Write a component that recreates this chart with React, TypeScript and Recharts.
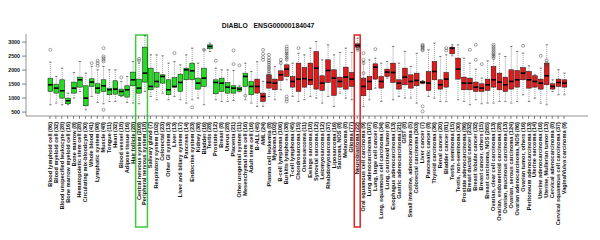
import { ComposedChart, Bar, XAxis, YAxis, ReferenceArea } from "recharts";

const normalTissues = [
  "Blood lymphoid cell (86)",
  "Blood myeloid cell (32)",
  "Blood unspecified leukocyte (28)",
  "Bone marrow myeloid cell (16)",
  "Bone marrow (8)",
  "Hematopoietic stem cell (28)",
  "Circulating mix-bloodcyte (30)",
  "Whole blood (41)",
  "Lymphatic system (98)",
  "Muscle (48)",
  "Tongue (11)",
  "Heart (32)",
  "Blood vessel (18)",
  "Adipose tissue (16)",
  "Hair follicle (28)",
  "Central nervous system (208)",
  "Peripheral nervous system (18)",
  "Salivary gland (7)",
  "Respiratory system (102)",
  "Colorectal (23)",
  "Other GI system (13)",
  "Liver (13)",
  "Liver and biliary system (17)",
  "Pancreas (14)",
  "Endocrine system (23)",
  "Kidney (38)",
  "Bladder (16)",
  "Testis (28)",
  "Prostate (12)",
  "Breast (8)",
  "Uterus (28)",
  "Placenta (21)",
  "Other urogenital system (11)",
  "Mesenchymal stem cell (16)",
  "Adult stem cell (16)",
];

const cancerTypes = [
  "B-ALL (45)",
  "AML (24)",
  "Plasma cell leukemia (8)",
  "Myeloma (102)",
  "B-cell lymphoma (106)",
  "Burkitts lymphoma (38)",
  "T-cell lymphoma (45)",
  "Chondrosarcoma (15)",
  "Osteosarcoma (11)",
  "Ewings sarcoma (18)",
  "Synovial sarcoma (12)",
  "Leiomyosarcoma (12)",
  "Rhabdomyosarcoma (37)",
  "Liposarcoma (16)",
  "Sarcoma, NOS (8)",
  "Melanoma (8)",
  "Glioma (77)",
  "Neuroblastoma (22)",
  "Oral squamous cell carcinoma (9)",
  "Lung adenocarcinoma (107)",
  "Lung, large cell cancer (8)",
  "Lung, squamous cell carcinoma (34)",
  "Lung, carcinoid tumor (6)",
  "Esophagus adenocarcinoma (13)",
  "Gastric adenocarcinoma (21)",
  "GIST (8)",
  "Small intestine, adenocarcinoma (5)",
  "Colorectal carcinoma (303)",
  "Liver cancer (7)",
  "Pancreatic cancer (8)",
  "Thyroid carcinoma (36)",
  "Renal cancer (20)",
  "Bladder cancer (81)",
  "Testis, seminoma (15)",
  "Testis, non-seminoma (30)",
  "Prostate adenocarcinoma (86)",
  "Breast ductal cancer (232)",
  "Breast lobular cancer (32)",
  "Breast cancer, others (15)",
  "Breast carcinoma, NOS (265)",
  "Ovarian, clear cell carcinoma (13)",
  "Ovarian, endometroid carcinoma (28)",
  "Ovarian, mucinous carcinoma (13)",
  "Ovarian, serous carcinoma (124)",
  "Ovarian adenocarcinoma, NOS (86)",
  "Ovarian tumor, others (16)",
  "Peritoneum adenocarcinoma (13)",
  "Uterine sarcoma (14)",
  "Uterine adenocarcinoma (16)",
  "Uterine, Mullerian tumor (13)",
  "Cervical adenocarcinoma (8)",
  "Cervical squamous cell carcinoma (37)",
  "Vagina/Vulva carcinoma (9)",
];

const categories = [...normalTissues, ...cancerTypes];

const whiskerLow = [
  761, 821, 761, 761, 999, 1237, 583, 1059, 845, 797, 880, 880, 1059, 845, 821, 797, 1237,
  1059, 940, 1178, 940, 1059, 940, 821, 940, 999, 761, 2666, 940, 880, 880, 916, 1225, 940, 821,
  702, 702, 1059, 940, 1297, 1654, 1059, 880, 940, 1059, 999, 821, 1059, 702, 1178, 999, 940,
  2725, 702, 940, 1356, 880, 1713, 940, 1059, 999, 999, 821, 1511, 1059, 999, 880, 880, 2511,
  940, 880, 761, 940, 797, 821, 821, 880, 880, 821, 880, 1119, 880, 999, 821, 761, 1237, 1119, 1119,
];

const lowerQuartile = [
  1237, 1178, 999, 797, 1178, 1392, 726, 1416, 1178, 1237, 1119, 1142, 1083, 1035, 1440, 1178, 1571,
  1297, 1392, 1535, 1119, 1392, 1237, 1654, 1654, 1321, 1416, 2761, 1154, 1237, 1178, 1178, 1249, 1416, 1119,
  1178, 880, 1356, 1297, 1630, 1773, 1392, 1237, 1392, 1475, 1321, 1273, 1559, 1095, 1392, 1321, 1416,
  2820, 1083, 1297, 1678, 1356, 1773, 1559, 1321, 1475, 1356, 1440, 1535, 1273, 1654, 1321, 1392, 2582,
  1678, 1297, 1297, 1237, 1237, 1273, 1392, 1297, 1237, 1321, 1392, 1654, 1356, 1392, 1321, 1475, 1321, 1416, 1392,
];

const medians = [
  1475, 1356, 1261, 904, 1356, 1654, 999, 1571, 1356, 1440, 1297, 1321, 1237, 1297, 1654, 1356, 1892,
  1416, 1594, 1773, 1297, 1416, 1559, 2011, 1975, 1535, 1713, 2844, 1559, 1535, 1392, 1356, 1321, 1773, 1416,
  1416, 1059, 1559, 1535, 1832, 2035, 1594, 1678, 1690, 1654, 2070, 1535, 1987, 1713, 1594, 1749, 1678,
  2880, 1416, 1594, 2106, 1594, 1928, 1916, 1535, 1749, 1594, 1630, 1559, 1535, 1951, 1475, 1678, 2785,
  2035, 1535, 1535, 1392, 1356, 1475, 1654, 1571, 1475, 1594, 1654, 1892, 1654, 1594, 1535, 1797, 1416, 1559, 1535,
];

const upperQuartile = [
  1713, 1499, 1654, 999, 1571, 1749, 1440, 1690, 1511, 1654, 1356, 1618, 1321, 1440, 1928, 1678, 2820,
  2070, 1916, 1832, 1654, 1737, 1856, 2070, 2249, 1713, 2070, 2903, 1654, 1713, 1559, 1440, 1392, 1892, 1594,
  1678, 1178, 1832, 1678, 1975, 2189, 1773, 2249, 2094, 2249, 2666, 1797, 2368, 2011, 1749, 2106, 1916,
  2939, 1713, 1773, 2225, 1773, 2035, 2249, 1654, 2070, 1832, 1892, 1594, 1951, 2309, 1654, 1916, 2820,
  2428, 1749, 1713, 1571, 1511, 1678, 2130, 1892, 1749, 2011, 1987, 2094, 1951, 1797, 1678, 2249, 1511, 1678, 1654,
];

const whiskerHigh = [
  2286, 1773, 2070, 1178, 1916, 2309, 1892, 2130, 2011, 2130, 2011, 2011, 1594, 1773, 2309, 2250, 3225,
  2546, 2546, 2511, 2249, 2300, 2189, 2546, 2785, 2249, 2725, 2963, 2070, 2011, 2011, 1987, 1440, 2249, 1951,
  2300, 1600, 2309, 2130, 2309, 2606, 2249, 2606, 2546, 2785, 3023, 2368, 2903, 2546, 2630, 2785, 2630,
  3141, 2309, 2368, 2428, 2249, 2309, 2844, 2249, 2666, 2130, 2600, 1630, 2725, 2963, 2487, 2546, 2904,
  2904, 2428, 2249, 2035, 1713, 2330, 2546, 2582, 2487, 2844, 2666, 2606, 2154, 1832, 2070, 2904, 1654, 2011, 1892,
];

const outlierValues: number[][] = [
  [2725], [], [], [], [], [], [], [2249], [2154, 2249, 2332], [2309, 2368, 2428, 2487, 2785, 583],
  [], [], [1737], [], [], [2340, 2400], [],
  [], [], [], [], [2606], [], [], [666], [], [2725], [], [2332], [], [], [2213, 2701], [2166], [1083], [], [],
  [2368, 2463, 2582, 2725],
  [1655, 1730, 1790, 1880, 1950, 2040, 2105, 2190, 2270, 2350, 2440, 2550],
  [], [2249, 2368],
  [2380, 2450, 2520, 2600, 2680, 2760, 2844, 1059, 960, 880],
  [], [2785], [], [], [], [], [], [], [], [], [], [2725, 2785, 2844],
  [2606, 2368, 2249, 1892, 1678], [], [2749], [], [], [], [], [], [], [],
  [2701, 2740, 2790, 2830, 2868, 2904, 702, 523],
  [], [], [], [2701, 2785], [2785], [], [],
  [2725], [2368, 2904], [2213], [],
  [2428, 2487, 2546, 2606, 2666, 2725, 2785, 2844, 2904],
  [], [], [], [], [2868], [], [], [2511], [2154, 2249, 2344], [], [], [], [2130],
];

const yTicks = [500, 1000, 1500, 2000, 2500, 3000];
const yDomain = [360, 3290];

const GREEN = "#22dd22";
const RED = "#e31a1a";
const FRAME = "#777";
const FONT = "'Liberation Sans', Arial, sans-serif";

const chartData = categories.map((name, i) => ({
  name,
  box: [lowerQuartile[i], upperQuartile[i]],
  low: whiskerLow[i],
  median: medians[i],
  high: whiskerHigh[i],
  outliers: outlierValues[i] ?? [],
  cancer: i >= normalTissues.length,
}));

function BoxShape(props: any) {
  const { x, y, width, height, payload } = props;
  const [q1, q3] = payload.box;
  const k = height / (q3 - q1);
  const toY = (v: number) => y + (q3 - v) * k;
  const cx = x + width / 2;
  const cap = width / 4;
  const fill = payload.cancer ? RED : GREEN;
  return (
    <g>
      <line x1={cx} x2={cx} y1={toY(payload.high)} y2={y} stroke="#555" strokeWidth={0.6} strokeDasharray="1 1" />
      <line x1={cx} x2={cx} y1={y + height} y2={toY(payload.low)} stroke="#555" strokeWidth={0.6} strokeDasharray="1 1" />
      <line x1={cx - cap} x2={cx + cap} y1={toY(payload.high)} y2={toY(payload.high)} stroke="#333" strokeWidth={0.6} />
      <line x1={cx - cap} x2={cx + cap} y1={toY(payload.low)} y2={toY(payload.low)} stroke="#333" strokeWidth={0.6} />
      <rect x={x} y={y} width={width} height={height} fill={fill} stroke="#111" strokeWidth={0.5} />
      <line x1={x} x2={x + width} y1={toY(payload.median)} y2={toY(payload.median)} stroke="#000" strokeWidth={1.6} />
      {payload.outliers.map((v: number, j: number) => (
        <circle key={j} cx={cx} cy={toY(v)} r={1.5} fill="none" stroke="#444" strokeWidth={0.5} />
      ))}
    </g>
  );
}

function CategoryTick({ x, y, payload }: any) {
  return (
    <text
      x={x}
      y={y}
      transform={`rotate(-90, ${x}, ${y})`}
      textAnchor="end"
      dy="0.35em"
      fontSize={5.6}
      fontWeight="bold"
      fontFamily={FONT}
      fill="#111"
    >
      {payload.value}
    </text>
  );
}

export default function App() {
  return (
    <div style={{ position: "absolute", left: 0, top: 0, width: 600, height: 240, background: "#fff" }}>
      <div
        style={{
          position: "absolute",
          left: 0,
          top: 21,
          width: 536,
          textAlign: "center",
          fontFamily: FONT,
          fontWeight: "bold",
          fontSize: 6.8,
          lineHeight: "10px",
          whiteSpace: "pre",
          color: "#111",
        }}
      >
        {"DIABLO   ENSG00000184047"}
      </div>
      <ComposedChart
        width={600}
        height={240}
        data={chartData}
        margin={{ top: 34, right: 12, bottom: 0, left: 0 }}
        style={{ position: "absolute", left: 0, top: 0 }}
      >
        <XAxis
          dataKey="name"
          interval={0}
          padding={{ left: 21, right: 21 }}
          height={124}
          tickSize={3}
          tickMargin={3}
          tickLine={{ stroke: "#333", strokeWidth: 0.6 }}
          axisLine={{ stroke: FRAME, strokeWidth: 0.8 }}
          tick={<CategoryTick />}
        />
        <XAxis
          xAxisId="top"
          orientation="top"
          dataKey="name"
          height={0}
          tick={false}
          tickLine={false}
          axisLine={{ stroke: FRAME, strokeWidth: 0.8 }}
        />
        <YAxis
          domain={yDomain}
          allowDataOverflow
          ticks={yTicks}
          width={26}
          tickSize={4}
          tickMargin={2}
          tickLine={{ stroke: "#333", strokeWidth: 0.6 }}
          axisLine={{ stroke: FRAME, strokeWidth: 0.8 }}
          tick={{ fontSize: 5.3, fontWeight: "bold", fontFamily: FONT, fill: "#111" }}
        />
        <YAxis
          yAxisId="right"
          orientation="right"
          domain={yDomain}
          allowDataOverflow
          width={0}
          tick={false}
          tickLine={false}
          axisLine={{ stroke: FRAME, strokeWidth: 0.8 }}
        />
        <Bar dataKey="box" barSize={4.7} shape={(p: any) => <BoxShape {...p} />} isAnimationActive={false} />
        <ReferenceArea
          x1={normalTissues[15]}
          x2={normalTissues[16]}
          y1={-3606}
          y2={3254}
          ifOverflow="visible"
          fill="none"
          stroke="#3ccc3c"
          strokeWidth={1.5}
        />
        <ReferenceArea
          x1={cancerTypes[17]}
          x2={cancerTypes[17]}
          y1={-3606}
          y2={3254}
          ifOverflow="visible"
          fill="none"
          stroke="#dd2222"
          strokeWidth={1.5}
        />
      </ComposedChart>
    </div>
  );
}
